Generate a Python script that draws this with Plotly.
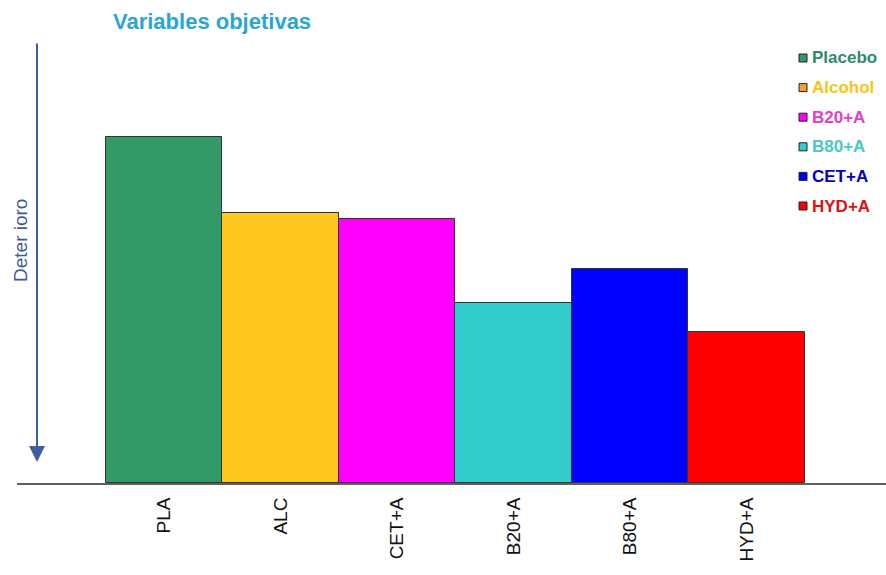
import plotly.graph_objects as go

# Treatment groups along the x axis and the deterioration score of each
categories = ["PLA", "ALC", "CET+A", "B20+A", "B80+A", "HYD+A"]
values = [346, 270, 264, 180, 214, 151]

# Legend entries (one per bar, in drawing order)
legend_names = ["Placebo", "Alcohol", "B20+A", "B80+A", "CET+A", "HYD+A"]
bar_colors = ["#339966", "#FFC820", "#FF00FF", "#33CCCC", "#0000FF", "#FF0000"]
swatch_colors = ["#339966", "#F0A030", "#FF00FF", "#33CCCC", "#0000FF", "#FF0000"]
text_colors = ["#2E8A6A", "#F5C518", "#E040C8", "#48C8C8", "#0000C0", "#E01010"]

W, H = 886, 575
ML, MR, MT, MB = 17, 0, 40, 92
PW, PH = W - ML - MR, H - MT - MB

fig = go.Figure()
for name, cat, val, col in zip(legend_names, categories, values, bar_colors):
    fig.add_trace(go.Bar(
        x=[cat], y=[val], name=name, width=1.0,
        marker=dict(color=col, line=dict(color="#333333", width=1)),
        showlegend=False, hoverinfo="x+y",
    ))

# Legend drawn as coloured swatches with coloured labels
def px_x(x):
    return (x - ML) / PW

def px_y(y):
    return (H - MB - y) / PH

row0, step = 58, 29.6
for i, (name, sw, tc) in enumerate(zip(legend_names, swatch_colors, text_colors)):
    yc = row0 + i * step
    fig.add_shape(type="rect", xref="paper", yref="paper",
                  x0=px_x(799), x1=px_x(807), y0=px_y(yc + 4), y1=px_y(yc - 4),
                  fillcolor=sw, line=dict(color="#222222", width=1))
    fig.add_annotation(xref="paper", yref="paper", x=px_x(810), y=px_y(yc),
                       xanchor="left", yanchor="middle", showarrow=False,
                       text=f"<b>{name}</b>",
                       font=dict(family="Arial, Liberation Sans", size=17, color=tc))

# Downward arrow indicating deterioration
fig.add_annotation(xref="paper", yref="paper", x=px_x(37), y=px_y(462),
                   ax=0, ay=-420, axref="pixel", ayref="pixel",
                   text="", showarrow=True, arrowhead=2, arrowsize=1.6,
                   arrowwidth=2, arrowcolor="#3D5FA0")
fig.add_annotation(xref="paper", yref="paper", x=px_x(20), y=px_y(241),
                   xanchor="center", yanchor="middle", showarrow=False,
                   textangle=-90, text="Deter ioro",
                   font=dict(family="Arial, Liberation Sans", size=19, color="#3D5A9A"))

unit = 116.5
fig.update_layout(
    width=W, height=H,
    margin=dict(l=ML, r=MR, t=MT, b=MB),
    paper_bgcolor="white", plot_bgcolor="white",
    barmode="overlay", bargap=0,
    title=dict(text="<b>Variables objetivas</b>", xref="container", yref="container",
               x=113 / W, xanchor="left", y=1 - 21 / H, yanchor="middle",
               font=dict(family="Arial, Liberation Sans", size=22, color="#2AA6D0")),
    xaxis=dict(
        type="category", categoryorder="array", categoryarray=categories,
        range=[-(164 - ML) / unit, (W - 164) / unit],
        showline=True, linecolor="#606060", linewidth=2,
        showgrid=False, zeroline=False, ticks="",
        tickangle=-90, ticklabelstandoff=5,
        tickfont=dict(family="Arial, Liberation Sans", size=19, color="#111111"),
    ),
    yaxis=dict(range=[0, PH], visible=False, showgrid=False, zeroline=False),
)

fig.write_html("out.html")
